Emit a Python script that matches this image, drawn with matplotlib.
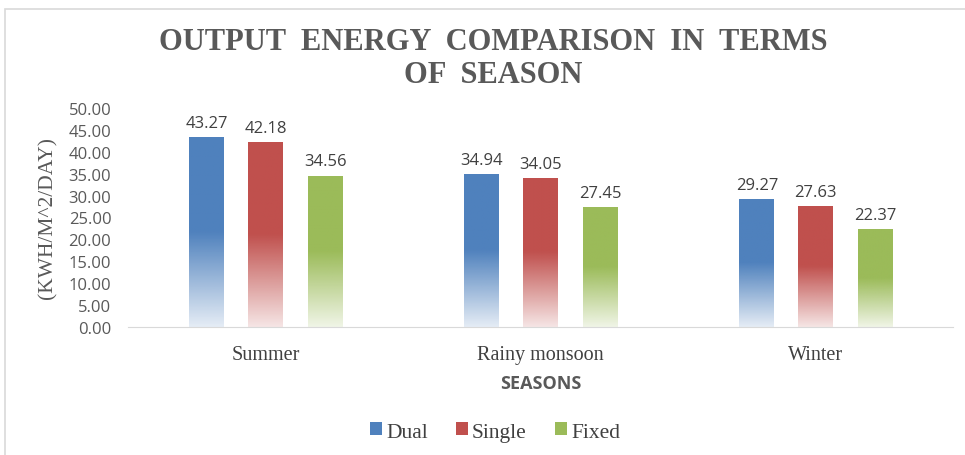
import numpy as np
import matplotlib.pyplot as plt
from matplotlib.patches import Rectangle, Patch
from matplotlib.colors import to_rgb

seasons = ["Summer", "Rainy monsoon", "Winter"]
series = ["Dual", "Single", "Fixed"]
dual = [43.27, 34.94, 29.27]
single = [42.18, 34.05, 27.63]
fixed = [34.56, 27.45, 22.37]
colors = ["#4F81BD", "#C0504D", "#9BBB59"]

serif = "Liberation Serif"
sans = "Open Sans"
grey = "#595959"

fig = plt.figure(figsize=(9.65, 4.56), dpi=100)
fig.patches.append(Rectangle((5 / 965, -0.1), 1.1, 1 - 10 / 456 + 0.1, transform=fig.transFigure,
                             fill=False, edgecolor="#d9d9d9", linewidth=1.2))
ax = fig.add_axes([128 / 965, 1 - 328 / 456, (953 - 128) / 965, (328 - 109) / 456])

x = np.arange(len(seasons))
width = 0.127
offsets = [-0.213, 0, 0.218]


def gradient(color):
    r, g, b = to_rgb(color)
    n = 200
    t = np.linspace(0, 1, n)  # 0 bottom, 1 top
    alpha = np.clip(0.15 + 0.85 * t / 0.5, 0, 1)
    img = np.zeros((n, 1, 4))
    img[:, 0, 0] = r
    img[:, 0, 1] = g
    img[:, 0, 2] = b
    img[:, 0, 3] = alpha
    return img


for vals, off, col in zip([dual, single, fixed], offsets, colors):
    bars = ax.bar(x + off, vals, width, color="none", edgecolor="none")
    img = gradient(col)
    for b, v in zip(bars, vals):
        x0 = b.get_x()
        im = ax.imshow(img, extent=[x0, x0 + b.get_width(), 0, v], origin="lower",
                       aspect="auto", zorder=2, interpolation="bilinear")
        im.set_clip_path(b)
        ax.text(x0 + b.get_width() / 2, v + 1.4, f"{v:.2f}", ha="center", va="bottom",
                fontsize=12, family=sans, color="#404040")

ax.set_xlim(-0.5, 2.5)
ax.set_ylim(0, 50)
ax.set_yticks(np.arange(0, 51, 5))
ax.set_yticklabels([f"{v:.2f}" for v in np.arange(0, 51, 5)], family=sans, fontsize=12, color=grey)
ax.set_xticks(x)
ax.set_xticklabels(seasons, family=serif, fontsize=14.5, color="#404040")
ax.tick_params(axis="y", length=0, pad=12)
ax.tick_params(axis="x", length=0, pad=13)
for s in ["top", "right", "left"]:
    ax.spines[s].set_visible(False)
ax.spines["bottom"].set_color("#d9d9d9")

ax.set_xlabel("SEASONS", family=sans, fontweight="bold", fontsize=13, color=grey, labelpad=7)
fig.text(48 / 965, 1 - 218 / 456, "(KWH/M^2/DAY)", rotation=90, ha="center", va="center",
         family=serif, fontsize=15.5, color=grey)

fig.text(493 / 965, 1 - 59 / 456, "OUTPUT  ENERGY  COMPARISON  IN  TERMS\nOF  SEASON", ha="center",
         va="center", family=serif, fontweight="bold", fontsize=22, color=grey, linespacing=1.2)

handles = [Patch(facecolor=c) for c in colors]
fig.legend(handles, series, loc="center", bbox_to_anchor=(495 / 965, 1 - 433 / 456), ncol=3,
           frameon=False, prop={"family": serif, "size": 15.5}, handlelength=0.55, handleheight=0.55,
           handletextpad=0.2, columnspacing=1.3, labelcolor="#404040")

fig.savefig("out.png", dpi=100)
